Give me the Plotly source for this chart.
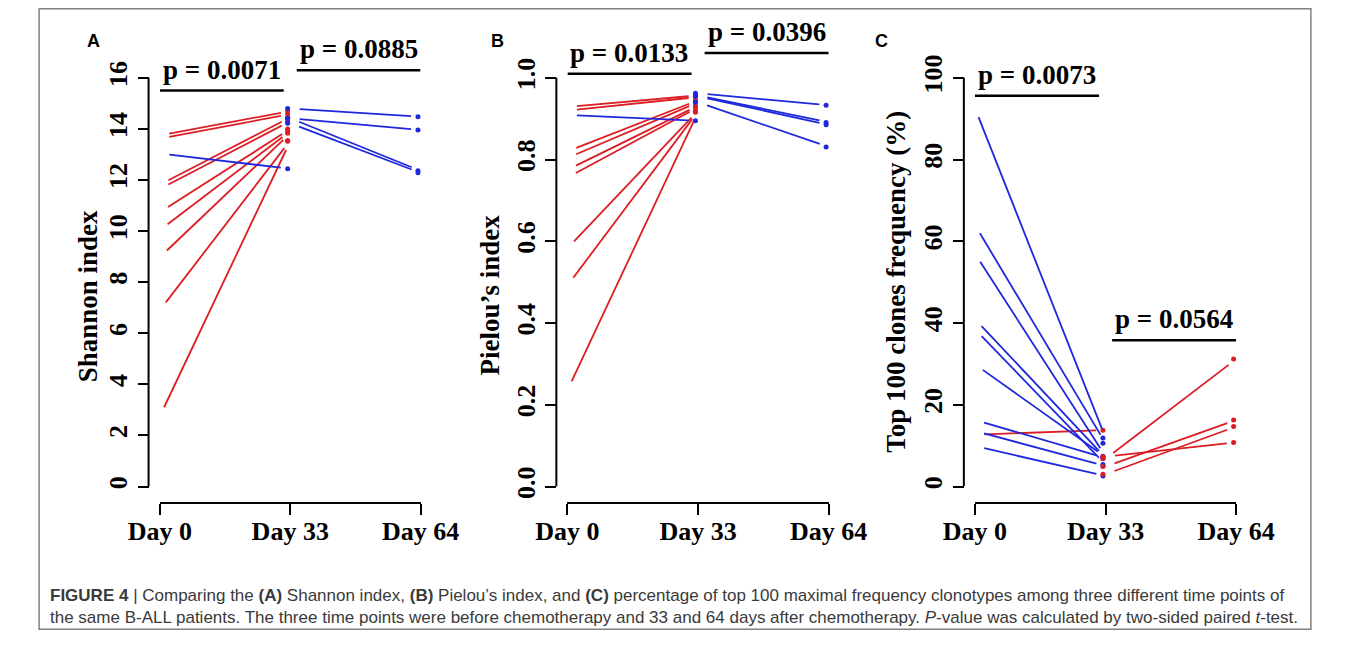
import math
import plotly.graph_objects as go

W, H = 1357, 650
RED = "#dc1e24"
BLUE = "#1e28dc"
SERIF = "Liberation Serif"
SANS = "Liberation Sans"

DAYS = ["Day 0", "Day 33", "Day 64"]

# ---- Panel A: Shannon index ----
A_DAY0 = [13.75, 13.62, 11.82, 11.65, 10.74, 10.04, 8.98, 6.91, 2.76, 13.04]
A_DAY33_FROM0 = [14.70, 14.58, 14.45, 14.30, 14.00, 13.91, 13.83, 13.55, 13.52, 12.44]
A_DAY33_TO64 = [14.80, 14.42, 14.42, 14.22]
A_DAY64 = [14.48, 13.96, 12.36, 12.28]
A_TICKS = [0, 2, 4, 6, 8, 10, 12, 14, 16]
A_PVALS = ["p = 0.0071", "p = 0.0885"]
A_PBAR_Y = [15.5, 16.3]

# ---- Panel B: Pielou's index ----
B_DAY0 = [0.929, 0.920, 0.820, 0.804, 0.775, 0.756, 0.583, 0.492, 0.236, 0.909]
B_DAY33_FROM0 = [0.957, 0.953, 0.945, 0.940, 0.932, 0.928, 0.920, 0.918, 0.916, 0.895]
B_DAY33_TO64 = [0.962, 0.957, 0.955, 0.940]
B_DAY64 = [0.933, 0.891, 0.885, 0.831]
B_TICKS = [0.0, 0.2, 0.4, 0.6, 0.8, 1.0]
B_PVALS = ["p = 0.0133", "p = 0.0396"]
B_PBAR_Y = [1.010, 1.061]

# ---- Panel C: Top 100 clones frequency (%) ----
C_DAY0 = [92.6, 64.0, 57.0, 41.0, 38.5, 29.9, 16.3, 13.6, 9.9, 12.7]
C_DAY33_FROM0 = [11.9, 10.6, 7.4, 7.0, 5.4, 7.2, 7.0, 5.0, 2.6, 13.8]
C_DAY33_TO64 = [6.8, 7.3, 4.9, 3.0]
C_DAY64 = [31.2, 10.8, 16.3, 14.7]
C_TICKS = [0, 20, 40, 60, 80, 100]
C_PVALS = ["p = 0.0073", "p = 0.0564"]
C_PBAR_Y = [95.6, 35.8]

PBAR_X = [(0.0, 0.95), (1.05, 2.0)]

CAPTION_1 = ("<b>FIGURE 4</b> | Comparing the <b>(A)</b> Shannon index, <b>(B)</b> Pielou’s index, "
             "and <b>(C)</b> percentage of top 100 maximal frequency clonotypes among three different time points of")
CAPTION_2 = ("the same B-ALL patients. The three time points were before chemotherapy and 33 and 64 days "
             "after chemotherapy. <i>P</i>-value was calculated by two-sided paired <i>t</i>-test.")

# layout geometry (pixels)
Y0_PX, YTOP_PX = 495.7, 79.3
XAXIS_PX = 512
POINT_DX = -0.02
GAP_PX = 10

panels = [
    dict(letter="A", title="Shannon index", d0=A_DAY0, d33a=A_DAY33_FROM0, d33b=A_DAY33_TO64, d64=A_DAY64,
         ticks=A_TICKS, fmt="d", pvals=A_PVALS, pbar=A_PBAR_Y,
         yline=123, x0=135, x2=410, tx=60, ty=302, lx=65, ly=42),
    dict(letter="B", title="Pielou’s index", d0=B_DAY0, d33a=B_DAY33_FROM0, d33b=B_DAY33_TO64, d64=B_DAY64,
         ticks=B_TICKS, fmt=".1f", pvals=B_PVALS, pbar=B_PBAR_Y,
         yline=553.3, x0=565, x2=840.7, tx=483.3, ty=301, lx=491.7, ly=42),
    dict(letter="C", title="Top 100 clones frequency (%)", d0=C_DAY0, d33a=C_DAY33_FROM0, d33b=C_DAY33_TO64,
         d64=C_DAY64, ticks=C_TICKS, fmt="d", pvals=C_PVALS, pbar=C_PBAR_Y,
         yline=983.3, x0=995, x2=1270.7, tx=911.7, ty=287, lx=896.7, ly=42),
]

fig = go.Figure()
shapes = []
annotations = []
layout_axes = {}


def shorten(xa, va, xb, vb, sx, sy):
    dx = (xb - xa) * sx
    dy = (vb - va) * sy
    L = math.hypot(dx, dy)
    f = GAP_PX / L
    return [xa + (xb - xa) * f, xb - (xb - xa) * f], [va + (vb - va) * f, vb - (vb - va) * f]


for i, p in enumerate(panels):
    n = "" if i == 0 else str(i + 1)
    xa, ya = "x" + n, "y" + n
    tmax = p["ticks"][-1]
    sx = (p["x2"] - p["x0"]) / 2.0
    sy = (Y0_PX - YTOP_PX) / tmax
    yrange_top = tmax * Y0_PX / (Y0_PX - YTOP_PX)

    for (xs, xe, starts, ends) in [(0, 1, p["d0"], p["d33a"]), (1, 2, p["d33b"], p["d64"])]:
        for color in (RED, BLUE):
            lx, ly, mx, my = [], [], [], []
            for a, b in zip(starts, ends):
                c = RED if b > a else BLUE
                if c != color:
                    continue
                sxs, sys_ = shorten(xs, a, xe, b, sx, sy)
                lx += sxs + [None]
                ly += sys_ + [None]
                mx += [xs + POINT_DX, xe + POINT_DX]
                my += [a, b]
            if not lx:
                continue
            fig.add_trace(go.Scatter(x=lx, y=ly, mode="lines", xaxis=xa, yaxis=ya,
                                     line=dict(color=color, width=1.8), hoverinfo="skip", showlegend=False))
            fig.add_trace(go.Scatter(x=mx, y=my, mode="markers", xaxis=xa, yaxis=ya, cliponaxis=False,
                                     marker=dict(color=color, size=5, symbol="circle",
                                                 line=dict(width=0)),
                                     hoverinfo="skip", showlegend=False))

    layout_axes["xaxis" + n] = dict(
        domain=[p["x0"] / W, p["x2"] / W], range=[0, 2], anchor="free", position=(H - XAXIS_PX) / H,
        showline=True, linecolor="black", linewidth=2, showgrid=False, zeroline=False,
        ticks="outside", ticklen=11, tickwidth=2, tickcolor="black",
        tickvals=[0, 1, 2], ticktext=DAYS, ticklabelstandoff=-6,
        tickfont=dict(family=SERIF, size=26, color="black", weight="bold"))
    layout_axes["yaxis" + n] = dict(
        domain=[(H - Y0_PX) / H, 1], range=[0, yrange_top], anchor="free", position=p["yline"] / W,
        showline=False, showgrid=False, zeroline=False,
        ticks="outside", ticklen=11, tickwidth=2, tickcolor="black",
        tickvals=p["ticks"], tickformat=p["fmt"], tickangle=-90,
        tickfont=dict(family=SERIF, size=26, color="black", weight="bold"))

    # y axis line from 0 to max tick
    shapes.append(dict(type="line", xref="paper", yref=ya, x0=p["yline"] / W, x1=p["yline"] / W,
                       y0=0, y1=tmax, line=dict(color="black", width=2)))
    # p-value bars
    for (bx0, bx1), by, txt in zip(PBAR_X, p["pbar"], p["pvals"]):
        shapes.append(dict(type="line", xref=xa, yref=ya, x0=bx0, x1=bx1, y0=by, y1=by,
                           line=dict(color="black", width=2.5)))
        annotations.append(dict(xref=xa, yref=ya, x=(bx0 + bx1) / 2, y=by, text=txt, showarrow=False,
                                xanchor="center", yanchor="middle", yshift=21,
                                font=dict(family=SERIF, size=27, color="black", weight="bold")))
    # y title
    annotations.append(dict(xref="paper", yref="paper", x=p["tx"] / W, y=(H - p["ty"]) / H, text=p["title"],
                            textangle=-90, showarrow=False, xanchor="center", yanchor="middle",
                            font=dict(family=SERIF, size=27, color="black", weight="bold")))
    # panel letter
    annotations.append(dict(xref="paper", yref="paper", x=p["lx"] / W, y=(H - p["ly"]) / H, text=p["letter"],
                            showarrow=False, xanchor="center", yanchor="middle",
                            font=dict(family=SANS, size=18, color="black", weight="bold")))

# caption
for txt, yc in [(CAPTION_1, 607), (CAPTION_2, 629)]:
    annotations.append(dict(xref="paper", yref="paper", x=17 / W, y=(H - yc) / H, text=txt, showarrow=False,
                            xanchor="left", yanchor="middle",
                            font=dict(family=SANS, size=17, color="#3a3a3a")))

# outer frame
shapes.append(dict(type="rect", xref="paper", yref="paper", x0=7.5 / W, x1=1349.5 / W,
                   y0=(H - 641) / H, y1=(H - 9) / H, line=dict(color="#808080", width=1.5)))

fig.update_layout(width=W, height=H, margin=dict(l=0, r=0, t=0, b=0),
                  paper_bgcolor="white", plot_bgcolor="white",
                  shapes=shapes, annotations=annotations, showlegend=False, **layout_axes)

fig.write_html("out.html")
